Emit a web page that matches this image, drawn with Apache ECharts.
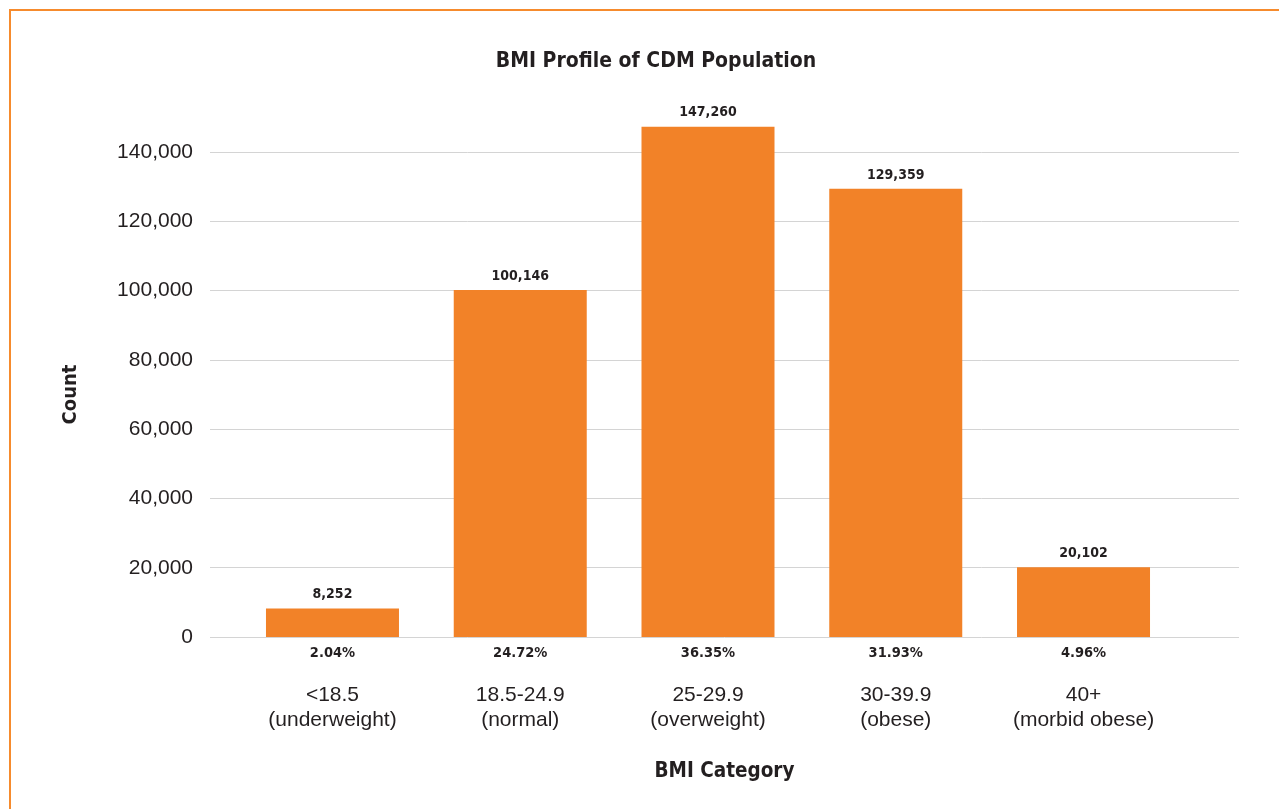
<!DOCTYPE html>
<html>
<head>
<meta charset="utf-8">
<script src="https://cdn.jsdelivr.net/npm/echarts@6/dist/echarts.min.js"></script>
<style>
html,body{margin:0;padding:0;background:#fff;}
#chart{width:1279px;height:809px;}
</style>
</head>
<body>
<div id="chart"></div>
<script>
const categories = ['<18.5\n(underweight)', '18.5-24.9\n(normal)', '25-29.9\n(overweight)', '30-39.9\n(obese)', '40+\n(morbid obese)'];
const counts = [8252, 100146, 147260, 129359, 20102];
const percents = ['2.04%', '24.72%', '36.35%', '31.93%', '4.96%'];
const yMin = 0, yMax = 140000, yStep = 20000;

const NARROW = '"Liberation Sans Narrow", "DejaVu Sans Condensed", "Arial Narrow", sans-serif';
const REG = '"Liberation Sans", Arial, Helvetica, sans-serif';
const TXT = '#231f20';
const ORANGE = '#F28228';

const fmt = v => Number(v).toLocaleString('en-US');

const chart = echarts.init(document.getElementById('chart'), null, {renderer: 'canvas'});
chart.setOption({
  animation: false,
  backgroundColor: '#fff',
  graphic: [{
    type: 'rect', silent: true, z: 100,
    shape: {x: 10, y: 10, width: 1400, height: 1000},
    style: {fill: 'none', stroke: '#F68B2D', lineWidth: 2}
  }],
  title: {
    text: 'BMI Profile of CDM Population',
    left: 651, top: 46, textAlign: 'center',
    textStyle: {fontFamily: NARROW, fontWeight: 'bold', fontSize: 21, color: TXT}
  },
  grid: [
    {left: 210, right: 40, top: 152, bottom: 172},
    {left: 238.6, right: 101.6, top: 152, bottom: 172}
  ],
  xAxis: [
    {
      gridIndex: 0, type: 'value', min: 0, max: 1,
      axisLine: {show: false}, axisTick: {show: false}, axisLabel: {show: false}, splitLine: {show: false},
      name: 'BMI Category', nameLocation: 'middle', nameGap: 124,
      nameTextStyle: {fontFamily: NARROW, fontWeight: 'bold', fontSize: 20.5, color: TXT}
    },
    {
      gridIndex: 1, type: 'category', data: categories,
      axisLine: {show: false}, axisTick: {show: false}, splitLine: {show: false},
      axisLabel: {
        margin: 6, interval: 0,
        formatter: (v, i) => {
          const lines = v.split('\n').map(s => '{c|' + s + '}').join('\n');
          return '{p|' + percents[i] + '}\n{g| }\n' + lines;
        },
        rich: {
          p: {fontFamily: NARROW, fontWeight: 'bold', fontSize: 14.5, lineHeight: 20, color: TXT},
          g: {fontSize: 10, lineHeight: 20},
          c: {fontFamily: REG, fontSize: 21, lineHeight: 25, color: TXT}
        }
      }
    }
  ],
  yAxis: [
    {
      gridIndex: 0, type: 'value', min: yMin, max: yMax, interval: yStep,
      axisLine: {show: false}, axisTick: {show: false},
      axisLabel: {margin: 17, formatter: fmt, fontFamily: REG, fontSize: 21, color: TXT},
      splitLine: {lineStyle: {color: '#d4d4d4', width: 1}},
      name: 'Count', nameLocation: 'middle', nameGap: 129,
      nameTextStyle: {fontFamily: NARROW, fontWeight: 'bold', fontSize: 20, color: TXT}
    },
    {
      gridIndex: 1, type: 'value', min: yMin, max: yMax, interval: yStep, show: false,
      splitLine: {show: false}
    }
  ],
  series: [{
    type: 'bar', xAxisIndex: 1, yAxisIndex: 1,
    data: counts, barWidth: 133, clip: false,
    itemStyle: {color: ORANGE},
    label: {
      show: true, position: 'top', distance: 7, formatter: p => fmt(p.value),
      fontFamily: NARROW, fontWeight: 'bold', fontSize: 14, color: TXT
    }
  }]
});
</script>
</body>
</html>
